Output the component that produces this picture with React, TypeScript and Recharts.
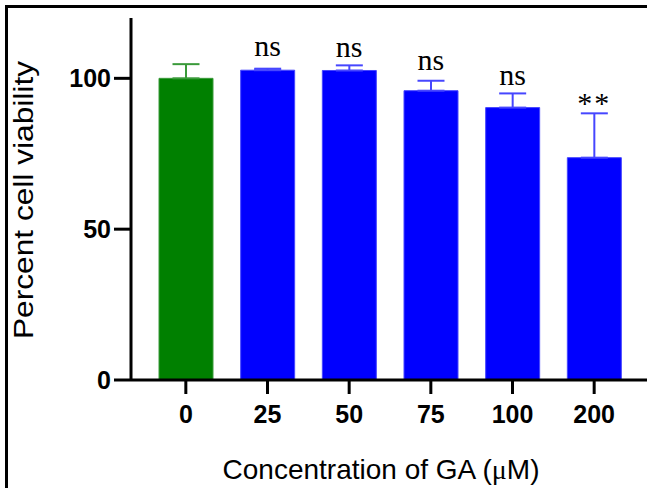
import { BarChart, Bar, XAxis, YAxis, Cell, ErrorBar, ReferenceDot, Label } from 'recharts';

// GA concentrations (µM)
const doses = ['0', '25', '50', '75', '100', '200'];
// mean percent viability
const viability = [100, 102.7, 102.6, 95.9, 90.3, 73.7];
// upper error (SD)
const sdUpper = [4.7, 0.5, 1.7, 3.3, 4.7, 14.7];
// significance marks and where they sit (in % units)
const sigText = ['', 'ns', 'ns', 'ns', 'ns', '**'];
const sigY = [0, 107.4, 107.1, 102.6, 97.8, 88.6];
const yTicks = [0, 50, 100];

const GREEN = '#008000';
const GREEN_ERR = '#3a9a3a';
const BLUE = '#0000ff';
const BLUE_ERR = '#4646ff';

const sans = '"Liberation Sans", Arial, sans-serif';
const serif = '"Liberation Serif", "Times New Roman", serif';

const data = doses.map((d, i) => ({
  dose: d,
  value: viability[i],
  errCtrl: i === 0 ? [0, sdUpper[i]] : null,
  errTrt: i > 0 ? [0, sdUpper[i]] : null,
}));

export default function App() {
  return (
    <div style={{ position: 'absolute', left: 0, top: 0, width: 647, height: 488, background: '#fff', overflow: 'hidden' }}>
      <div
        style={{
          position: 'absolute',
          left: 5,
          top: 5,
          right: 0,
          bottom: -10,
          borderTop: '3px solid #000',
          borderLeft: '3px solid #000',
        }}
      />
      <BarChart
        width={647}
        height={488}
        data={data}
        margin={{ top: 18, right: 0, bottom: 0, left: 0 }}
        style={{ position: 'absolute', left: 0, top: 0 }}
      >
        <XAxis
          dataKey="dose"
          interval={0}
          height={108}
          padding={{ left: 14, right: 12 }}
          axisLine={{ stroke: '#000', strokeWidth: 3 }}
          tickLine={{ stroke: '#000', strokeWidth: 3 }}
          tickSize={14}
          tickMargin={11}
          tick={{ fill: '#000', fontSize: 25, fontWeight: 'bold', fontFamily: sans }}
        >
          <Label
            content={() => (
              <text x={381} y={479} textAnchor="middle" fontFamily={sans} fontSize={28} fill="#000">
                Concentration of GA (
                <tspan fontFamily={serif}>μ</tspan>
                M)
              </text>
            )}
          />
        </XAxis>
        <YAxis
          domain={[0, 120]}
          ticks={yTicks}
          width={131}
          axisLine={{ stroke: '#000', strokeWidth: 3 }}
          tickLine={{ stroke: '#000', strokeWidth: 3 }}
          tickSize={17}
          tickMargin={3}
          tick={{ fill: '#000', fontSize: 25, fontWeight: 'bold', fontFamily: sans }}
        >
          <Label
            content={() => {
              const cx = 33;
              const cy = 200;
              return (
                <text
                  x={cx}
                  y={cy}
                  transform={`rotate(-90 ${cx} ${cy})`}
                  textAnchor="middle"
                  fontFamily={sans}
                  fontSize={27}
                  textLength={278}
                  lengthAdjust="spacingAndGlyphs"
                  fill="#000"
                >
                  Percent cell viability
                </text>
              );
            }}
          />
        </YAxis>
        <Bar dataKey="value" barSize={54} isAnimationActive={false}>
          {data.map((_, i) => (
            <Cell
              key={i}
              fill={i === 0 ? GREEN : BLUE}
              stroke={i === 0 ? GREEN_ERR : BLUE_ERR}
              strokeWidth={1}
            />
          ))}
          <ErrorBar dataKey="errCtrl" width={13.5} stroke={GREEN_ERR} strokeWidth={2} direction="y" />
          <ErrorBar dataKey="errTrt" width={13.5} stroke={BLUE_ERR} strokeWidth={2} direction="y" />
        </Bar>
        {doses.map((d, i) =>
          sigText[i] ? (
            <ReferenceDot
              key={d}
              x={d}
              y={sigY[i]}
              r={0}
              shape={(p: any) => (
                <text
                  x={p.cx}
                  y={p.cy}
                  textAnchor="middle"
                  fontFamily={serif}
                  fontSize={30}
                  letterSpacing={sigText[i] === '**' ? 2 : 0}
                  fill="#000"
                >
                  {sigText[i]}
                </text>
              )}
            />
          ) : null
        )}
      </BarChart>
    </div>
  );
}
